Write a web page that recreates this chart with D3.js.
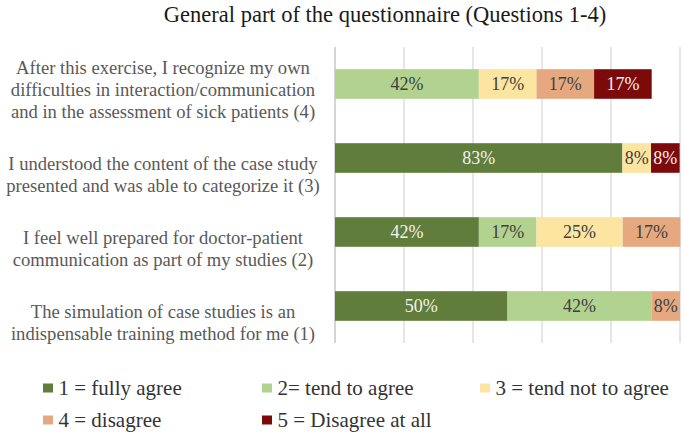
<!DOCTYPE html>
<html><head><meta charset="utf-8">
<script src="https://cdn.jsdelivr.net/npm/d3@7"></script>
<style>body{margin:0;background:#fff}svg{display:block}svg text{font-family:"Liberation Serif","Times New Roman","DejaVu Serif",serif}</style>
</head><body>
<svg id="c" width="684" height="433"></svg>
<script>
const title = "General part of the questionnaire (Questions 1-4)";
const categories = [
  ["After this exercise, I recognize my own","difficulties in interaction/communication","and in the assessment of sick patients (4)"],
  ["I understood the content of the case study","presented and was able to categorize it (3)"],
  ["I feel well prepared for doctor-patient","communication as part of my studies (2)"],
  ["The simulation of case studies is an","indispensable training method for me (1)"]
];
const seriesNames = ["1 = fully agree","2= tend to agree","3 = tend not to agree","4 = disagree","5 = Disagree at all"];
const s1 = [0, 83.3, 41.7, 50];
const s2 = [41.7, 0, 16.7, 41.7];
const s3 = [16.7, 8.3, 25, 0];
const s4 = [16.7, 0, 16.7, 8.3];
const s5 = [16.7, 8.3, 0, 0];
const xTicks = [0,20,40,60,80,100];
const colors = ["#607d3b","#b2d28f","#fbe5a0","#e6a97f","#7d0a0a"];
const labelColors = ["#f2f2f2","#404040","#404040","#404040","#f2f2f2"];

const series = [s1,s2,s3,s4,s5];
const svg = d3.select("#c");

const x = d3.scaleLinear().domain([0,100]).range([335,680]);
const y = d3.scaleBand().domain(d3.range(categories.length)).range([47,343]).paddingInner(0.6).paddingOuter(0.3);

svg.append("g").selectAll("line").data(xTicks).join("line")
  .attr("x1",d=>x(d)).attr("x2",d=>x(d)).attr("y1",47).attr("y2",343)
  .attr("stroke",d=>d===0?"#bfbfbf":"#d9d9d9").attr("stroke-width",1.3);

const stackData = categories.map((c,i)=>{const o={i}; series.forEach((s,k)=>o[k]=s[i]); return o;});
const stack = d3.stack().keys(d3.range(series.length))(stackData);
const g = svg.append("g");
stack.forEach((layer,k)=>{
  layer.forEach((seg,i)=>{
    const v = series[k][i];
    if(!v) return;
    g.append("rect").attr("x",x(seg[0])).attr("y",y(i)).attr("width",x(seg[1])-x(seg[0])).attr("height",y.bandwidth()).attr("fill",colors[k]);
    g.append("text").attr("x",(x(seg[0])+x(seg[1]))/2).attr("y",y(i)+y.bandwidth()/2).attr("dy","0.35em")
      .attr("text-anchor","middle").attr("font-size",18).attr("fill",labelColors[k])
      .text(d3.format(".0%")(v/100));
  });
});

categories.forEach((lines,i)=>{
  const cy = y(i)+y.bandwidth()/2 + 27;
  const t = svg.append("text").attr("text-anchor","middle").attr("font-size",18.6).attr("fill","#595959");
  lines.forEach((ln,j)=>{
    t.append("tspan").attr("x",163).attr("y",cy-(lines.length-1-j)*22).attr("dy","0.35em").text(ln);
  });
});

svg.append("text").attr("x",385).attr("y",22).attr("text-anchor","middle").attr("font-size",22.5).attr("fill","#1a1a1a").text(title);

const legX = [43,262,480];
seriesNames.forEach((n,k)=>{
  const col = k%3, row = Math.floor(k/3);
  const lx = legX[col], ly = 388 + row*32;
  svg.append("rect").attr("x",lx).attr("y",ly-4.5).attr("width",10).attr("height",9).attr("fill",colors[k]);
  svg.append("text").attr("x",lx+15.5).attr("y",ly).attr("dy","0.35em").attr("font-size",21).attr("fill","#333").text(n);
});
</script>
</body></html>
